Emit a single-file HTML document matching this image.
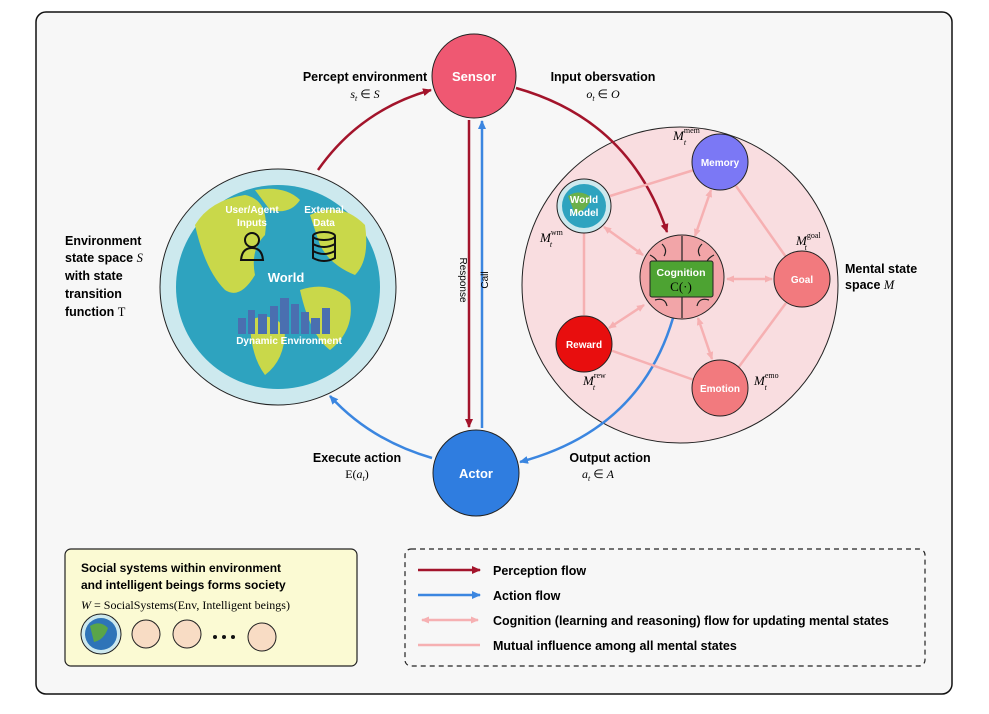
<!DOCTYPE html>
<html><head><meta charset="utf-8"><style>
body{margin:0;background:#fff;}
svg{display:block;font-family:"Liberation Sans",sans-serif;}
.b{font-weight:bold;}
.m{font-family:"Liberation Serif",serif;font-style:italic;}
.r{font-family:"Liberation Serif",serif;}
</style></head><body>
<svg width="989" height="714" viewBox="0 0 989 714" xmlns="http://www.w3.org/2000/svg">
<defs>
<marker id="ar" markerWidth="10" markerHeight="10" refX="8" refY="5" orient="auto" markerUnits="userSpaceOnUse"><path d="M0,1 L9,5 L0,9 z" fill="#a3142b"/></marker>
<marker id="ab" markerWidth="10" markerHeight="10" refX="8" refY="5" orient="auto" markerUnits="userSpaceOnUse"><path d="M0,1 L9,5 L0,9 z" fill="#3b86e0"/></marker>
<marker id="ap" markerWidth="9" markerHeight="9" refX="7" refY="4.5" orient="auto-start-reverse" markerUnits="userSpaceOnUse"><path d="M0,1 L8,4.5 L0,8 z" fill="#f6b0b2"/></marker>
</defs>
<rect x="36" y="12" width="916" height="682" rx="10" fill="#f7f7f7" stroke="#111" stroke-width="1.5"/>

<circle cx="680" cy="285" r="158" fill="#f9dde0" stroke="#222" stroke-width="1"/>
<circle cx="278" cy="287" r="118" fill="#cde9ee" stroke="#222" stroke-width="1"/>
<circle cx="278" cy="287" r="102" fill="#2ea3bf"/>
<path d="M195,225 Q210,200 245,195 Q270,200 265,235 Q250,250 255,275 Q240,300 225,290 Q205,270 195,225Z" fill="#c9d84a"/>
<path d="M255,190 Q285,185 300,200 Q290,215 270,210Z" fill="#c9d84a"/>
<path d="M310,215 Q340,200 365,225 Q370,260 355,275 Q330,265 320,245Z" fill="#c9d84a"/>
<path d="M300,290 Q330,280 350,300 Q355,330 330,350 Q310,335 300,290Z" fill="#c9d84a"/>
<path d="M250,320 Q275,310 285,330 Q285,360 265,375 Q250,355 250,320Z" fill="#c9d84a"/>
<g fill="#4a6fb0">
<rect x="238" y="318" width="8" height="16"/><rect x="248" y="310" width="7" height="24"/><rect x="258" y="314" width="9" height="20"/>
<rect x="270" y="306" width="8" height="28"/><rect x="280" y="298" width="9" height="36"/><rect x="291" y="304" width="8" height="30"/>
<rect x="301" y="312" width="8" height="22"/><rect x="311" y="318" width="9" height="16"/><rect x="322" y="308" width="8" height="26"/>
</g>
<text x="252" y="213" font-size="10" fill="#fff" class="b" text-anchor="middle">User/Agent</text>
<text x="252" y="226" font-size="10" fill="#fff" class="b" text-anchor="middle">Inputs</text>
<text x="324" y="213" font-size="10" fill="#fff" class="b" text-anchor="middle">External</text>
<text x="324" y="226" font-size="10" fill="#fff" class="b" text-anchor="middle">Data</text>
<circle cx="252" cy="240" r="7" fill="none" stroke="#111" stroke-width="2"/>
<path d="M241,260 Q242,248 252,248 Q262,248 263,260Z" fill="none" stroke="#111" stroke-width="2"/>
<ellipse cx="324" cy="236" rx="11" ry="4" fill="none" stroke="#111" stroke-width="2"/>
<path d="M313,236 V258 Q324,264 335,258 V236 M313,244 Q324,250 335,244 M313,251 Q324,257 335,251" fill="none" stroke="#111" stroke-width="2"/>
<text x="286" y="282" font-size="13" fill="#fff" class="b" text-anchor="middle">World</text>
<text x="289" y="344" font-size="10" fill="#fff" class="b" text-anchor="middle">Dynamic Environment</text>

<path d="M318,170 Q360,110 431,90" fill="none" stroke="#a3142b" stroke-width="2.5" marker-end="url(#ar)"/>
<path d="M516,88 Q630,120 667,232" fill="none" stroke="#a3142b" stroke-width="2.5" marker-end="url(#ar)"/>
<path d="M469,120 V427" fill="none" stroke="#a3142b" stroke-width="2.5" marker-end="url(#ar)"/>
<path d="M482,428 V121" fill="none" stroke="#3b86e0" stroke-width="2.5" marker-end="url(#ab)"/>
<path d="M673,318 Q640,430 520,462" fill="none" stroke="#3b86e0" stroke-width="2.5" marker-end="url(#ab)"/>
<path d="M432,458 Q370,440 330,396" fill="none" stroke="#3b86e0" stroke-width="2.5" marker-end="url(#ab)"/>
<text transform="translate(460,280) rotate(90)" font-size="10" text-anchor="middle">Response</text>
<text transform="translate(488,280) rotate(-90)" font-size="10" text-anchor="middle">Call</text>

<g stroke="#f6b0b2" stroke-width="2.5" fill="none">
<line x1="610" y1="196" x2="694" y2="170"/>
<line x1="736" y1="186" x2="786" y2="257"/>
<line x1="786" y1="303" x2="738" y2="368"/>
<line x1="610" y1="350" x2="694" y2="380"/>
<line x1="584" y1="233" x2="584" y2="315"/>
<line x1="604" y1="227" x2="643" y2="255" marker-start="url(#ap)" marker-end="url(#ap)"/>
<line x1="711" y1="190" x2="695" y2="236" marker-start="url(#ap)" marker-end="url(#ap)"/>
<line x1="727" y1="279" x2="772" y2="279" marker-start="url(#ap)" marker-end="url(#ap)"/>
<line x1="698" y1="318" x2="712" y2="359" marker-start="url(#ap)" marker-end="url(#ap)"/>
<line x1="644" y1="305" x2="609" y2="328" marker-start="url(#ap)" marker-end="url(#ap)"/>
</g>

<circle cx="474" cy="76" r="42" fill="#ef5872" stroke="#222"/>
<text x="474" y="81" font-size="13" fill="#fff" class="b" text-anchor="middle">Sensor</text>
<circle cx="476" cy="473" r="43" fill="#2f7de0" stroke="#222"/>
<text x="476" y="478" font-size="13" fill="#fff" class="b" text-anchor="middle">Actor</text>

<circle cx="720" cy="162" r="28" fill="#7b78f5" stroke="#222"/>
<text x="720" y="166" font-size="10" fill="#fff" class="b" text-anchor="middle">Memory</text>
<circle cx="584" cy="206" r="27" fill="#cde9ee" stroke="#222"/>
<circle cx="584" cy="206" r="22" fill="#2ea3bf"/>
<path d="M568,196 Q580,188 592,198 Q585,212 575,214Z" fill="#6bb04a"/>
<text x="584" y="203" font-size="10" fill="#fff" class="b" text-anchor="middle">World</text>
<text x="584" y="216" font-size="10" fill="#fff" class="b" text-anchor="middle">Model</text>
<circle cx="682" cy="277" r="42" fill="#f2a5a8" stroke="#222"/>
<path d="M682,236 V318 M650,255 q10,5 8,15 M714,255 q-10,5 -8,15 M655,300 q10,-3 12,6 M709,300 q-10,-3 -12,6 M662,244 q6,6 2,12 M702,244 q-6,6 -2,12" stroke="#222" fill="none" stroke-width="1.2"/>
<rect x="650" y="261" width="63" height="36" rx="2" fill="#4da332" stroke="#222"/>
<text x="681" y="276" font-size="10.5" fill="#fff" class="b" text-anchor="middle">Cognition</text>
<text x="681" y="291" font-size="13" class="r" text-anchor="middle">C(·)</text>
<circle cx="802" cy="279" r="28" fill="#f27a7e" stroke="#222"/>
<text x="802" y="283" font-size="10" fill="#fff" class="b" text-anchor="middle">Goal</text>
<circle cx="584" cy="344" r="28" fill="#e80e0e" stroke="#222"/>
<text x="584" y="348" font-size="10" fill="#fff" class="b" text-anchor="middle">Reward</text>
<circle cx="720" cy="388" r="28" fill="#f27a7e" stroke="#222"/>
<text x="720" y="392" font-size="10" fill="#fff" class="b" text-anchor="middle">Emotion</text>

<g font-size="13">
<text x="673" y="140" class="m">M<tspan font-size="8" dy="-7" class="r" font-style="normal">mem</tspan><tspan font-size="8" dx="-16" dy="12">t</tspan></text>
<text x="540" y="242" class="m">M<tspan font-size="8" dy="-7" class="r" font-style="normal">wm</tspan><tspan font-size="8" dx="-13" dy="12">t</tspan></text>
<text x="796" y="245" class="m">M<tspan font-size="8" dy="-7" class="r" font-style="normal">goal</tspan><tspan font-size="8" dx="-16" dy="12">t</tspan></text>
<text x="583" y="385" class="m">M<tspan font-size="8" dy="-7" class="r" font-style="normal">rew</tspan><tspan font-size="8" dx="-13" dy="12">t</tspan></text>
<text x="754" y="385" class="m">M<tspan font-size="8" dy="-7" class="r" font-style="normal">emo</tspan><tspan font-size="8" dx="-14" dy="12">t</tspan></text>
</g>

<g font-size="12.5" class="b">
<text x="365" y="81" text-anchor="middle" class="b">Percept environment</text>
<text x="603" y="81" text-anchor="middle" class="b">Input obersvation</text>
<text x="357" y="462" text-anchor="middle" class="b">Execute action</text>
<text x="610" y="462" text-anchor="middle" class="b">Output action</text>
<text x="65" y="245" class="b">Environment</text>
<text x="65" y="262" class="b">state space <tspan class="m" font-weight="normal">S</tspan></text>
<text x="65" y="280" class="b">with state</text>
<text x="65" y="298" class="b">transition</text>
<text x="65" y="316" class="b">function <tspan class="r" font-weight="normal">T</tspan></text>
<text x="845" y="273" class="b">Mental state</text>
<text x="845" y="289" class="b">space <tspan class="m" font-weight="normal">M</tspan></text>
</g>
<g font-size="12" class="m">
<text x="365" y="98" text-anchor="middle">s<tspan font-size="8" dy="3">t</tspan><tspan dy="-3" class="r" font-style="normal"> ∈ </tspan>S</text>
<text x="603" y="98" text-anchor="middle">o<tspan font-size="8" dy="3">t</tspan><tspan dy="-3" class="r" font-style="normal"> ∈ </tspan>O</text>
<text x="357" y="478" text-anchor="middle"><tspan class="r" font-style="normal">E(</tspan>a<tspan font-size="8" dy="3">t</tspan><tspan dy="-3" class="r" font-style="normal">)</tspan></text>
<text x="598" y="478" text-anchor="middle">a<tspan font-size="8" dy="3">t</tspan><tspan dy="-3" class="r" font-style="normal"> ∈ </tspan>A</text>
</g>

<rect x="65" y="549" width="292" height="117" rx="6" fill="#fbfad3" stroke="#222" stroke-width="1.2"/>
<text x="81" y="572" font-size="12" class="b">Social systems within environment</text>
<text x="81" y="589" font-size="12" class="b">and intelligent beings forms society</text>
<text x="81" y="609" font-size="12" class="r"><tspan class="m">W</tspan> = SocialSystems(Env, Intelligent  beings)</text>
<circle cx="101" cy="634" r="20" fill="#cde9ee" stroke="#222"/>
<circle cx="101" cy="634" r="16" fill="#2e74b8"/>
<path d="M90,626 Q100,620 108,628 Q104,640 94,642Z" fill="#5aa548"/>
<circle cx="146" cy="634" r="14" fill="#f8dcc4" stroke="#222"/>
<circle cx="187" cy="634" r="14" fill="#f8dcc4" stroke="#222"/>
<circle cx="215" cy="637" r="2" fill="#111"/><circle cx="224" cy="637" r="2" fill="#111"/><circle cx="233" cy="637" r="2" fill="#111"/>
<circle cx="262" cy="637" r="14" fill="#f8dcc4" stroke="#222"/>

<rect x="405" y="549" width="520" height="117" rx="6" fill="none" stroke="#222" stroke-width="1.2" stroke-dasharray="5,4"/>
<line x1="418" y1="570" x2="480" y2="570" stroke="#a3142b" stroke-width="2.5" marker-end="url(#ar)"/>
<line x1="418" y1="595" x2="480" y2="595" stroke="#3b86e0" stroke-width="2.5" marker-end="url(#ab)"/>
<line x1="422" y1="620" x2="478" y2="620" stroke="#f6b0b2" stroke-width="2.5" marker-start="url(#ap)" marker-end="url(#ap)"/>
<line x1="418" y1="645" x2="480" y2="645" stroke="#f6b0b2" stroke-width="2.5"/>
<g font-size="12.5" font-weight="bold">
<text x="493" y="575">Perception flow</text>
<text x="493" y="600">Action flow</text>
<text x="493" y="625">Cognition (learning and reasoning) flow for updating mental states</text>
<text x="493" y="650">Mutual influence among all mental states</text>
</g>
</svg>
</body></html>
